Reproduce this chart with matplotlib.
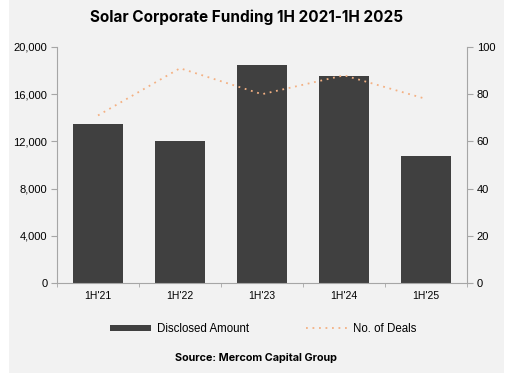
import matplotlib
matplotlib.use("Agg")
import matplotlib.pyplot as plt
from matplotlib.patches import Rectangle
import numpy as np

categories = ["1H'21", "1H'22", "1H'23", "1H'24", "1H'25"]
disclosed_amount = [13470, 12030, 18470, 17540, 10760]
num_deals = [71, 91, 80, 88, 78]
left_ticks = [0, 4000, 8000, 12000, 16000, 20000]
right_ticks = [0, 20, 40, 60, 80, 100]

bg = "#F2F2F2"
plt.rcParams['font.family'] = ['Liberation Sans', 'DejaVu Sans']

fig = plt.figure(figsize=(5.22, 3.82), dpi=100, facecolor="white")
fig.patches.append(Rectangle((9/522, 1-373/382), (504-9)/522, 373/382,
                             transform=fig.transFigure, facecolor=bg, edgecolor='none', zorder=-10))
ax = fig.add_axes([57/522, 1-283/382, 410/522, 236/382], facecolor=bg)
x = np.arange(len(categories))
bars = ax.bar(x, disclosed_amount, width=0.6, color="#404040", label="Disclosed Amount", zorder=2)
ax.set_xlim(-0.5, len(categories)-0.5)
ax.set_ylim(0, 20000)
ax.set_yticks(left_ticks)
ax.set_yticklabels([f"{v:,}" for v in left_ticks])
ax.set_xticks(x)
ax.set_xticklabels(categories)
ax.set_xticks(np.arange(len(categories)+1)-0.5, minor=True)
ax.tick_params(axis='x', which='major', length=0, labelsize=7.5, pad=6)
ax.tick_params(axis='x', which='minor', length=3, color="#A6A6A6", direction='out')
ax.tick_params(axis='y', length=4, color="#A6A6A6", labelsize=8, pad=3)
for s in ['top', 'right']:
    ax.spines[s].set_visible(False)
for s in ['left', 'bottom']:
    ax.spines[s].set_color("#A6A6A6")

ax2 = ax.twinx()
line, = ax2.plot(x, num_deals, color="#F4B183", linestyle=(0, (1, 2.6)), linewidth=1.3,
                 label="No. of Deals", zorder=3)
ax2.set_ylim(0, 100)
ax2.set_yticks(right_ticks)
ax2.tick_params(axis='y', length=4, color="#A6A6A6", labelsize=8, pad=3)
for s in ['top', 'left', 'bottom']:
    ax2.spines[s].set_visible(False)
ax2.spines['right'].set_color("#A6A6A6")

fig.text(246.5/522, 1-17/382, "Solar Corporate Funding 1H 2021-1H 2025", ha='center', va='center',
         fontsize=11, fontweight='bold', family=['Inter', 'DejaVu Sans'])
fig.legend([bars, line], ["Disclosed Amount", "No. of Deals"], loc='center',
           bbox_to_anchor=(263/522, 1-329/382), ncol=2, frameon=False, fontsize=8.3,
           handlelength=3.6, handleheight=0.5, columnspacing=4.9, handletextpad=0.5)
fig.text(256/522, 1-358/382, "Source: Mercom Capital Group", ha='center', va='center',
         fontsize=7.8, fontweight='bold', family=['Inter', 'DejaVu Sans'])

fig.savefig("out.png", dpi=100, facecolor="white")
